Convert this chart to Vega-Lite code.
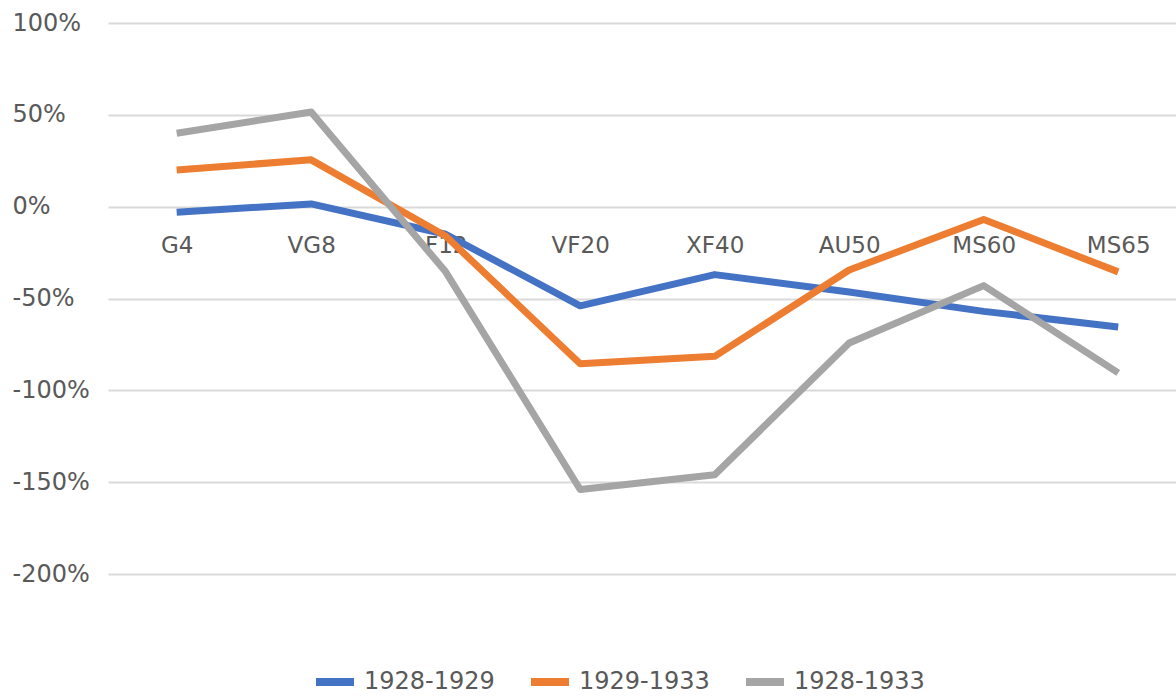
{
  "$schema": "https://vega.github.io/schema/vega-lite/v6.json",
  "width": 1068,
  "height": 551,
  "autosize": {"type": "none"},
  "padding": {"left": 108, "top": 23, "right": 0, "bottom": 122},
  "background": "white",
  "config": {"view": {"stroke": null}, "font": "DejaVu Sans"},
  "data": {
    "values": [
      {"grade": "G4", "period": "1928-1929", "value": -0.03},
      {"grade": "VG8", "period": "1928-1929", "value": 0.015},
      {"grade": "F12", "period": "1928-1929", "value": -0.15},
      {"grade": "VF20", "period": "1928-1929", "value": -0.54},
      {"grade": "XF40", "period": "1928-1929", "value": -0.37},
      {"grade": "AU50", "period": "1928-1929", "value": -0.465},
      {"grade": "MS60", "period": "1928-1929", "value": -0.57},
      {"grade": "MS65", "period": "1928-1929", "value": -0.655},
      {"grade": "G4", "period": "1929-1933", "value": 0.2},
      {"grade": "VG8", "period": "1929-1933", "value": 0.255},
      {"grade": "F12", "period": "1929-1933", "value": -0.16},
      {"grade": "VF20", "period": "1929-1933", "value": -0.855},
      {"grade": "XF40", "period": "1929-1933", "value": -0.815},
      {"grade": "AU50", "period": "1929-1933", "value": -0.345},
      {"grade": "MS60", "period": "1929-1933", "value": -0.07},
      {"grade": "MS65", "period": "1929-1933", "value": -0.355},
      {"grade": "G4", "period": "1928-1933", "value": 0.4},
      {"grade": "VG8", "period": "1928-1933", "value": 0.515},
      {"grade": "F12", "period": "1928-1933", "value": -0.355},
      {"grade": "VF20", "period": "1928-1933", "value": -1.54},
      {"grade": "XF40", "period": "1928-1933", "value": -1.46},
      {"grade": "AU50", "period": "1928-1933", "value": -0.742},
      {"grade": "MS60", "period": "1928-1933", "value": -0.43},
      {"grade": "MS65", "period": "1928-1933", "value": -0.905}
    ]
  },
  "mark": {"type": "line", "strokeWidth": 7, "strokeCap": "butt", "strokeJoin": "round"},
  "encoding": {
    "x": {
      "field": "grade",
      "type": "ordinal",
      "sort": ["G4", "VG8", "F12", "VF20", "XF40", "AU50", "MS60", "MS65"],
      "scale": {"type": "point", "padding": 0.47, "align": 0.543},
      "axis": {
        "title": null,
        "orient": "bottom",
        "offset": -367,
        "labelPadding": 27,
        "labelAngle": 0,
        "labelFontSize": 23,
        "labelColor": "#595959",
        "domain": false,
        "ticks": false,
        "grid": false
      }
    },
    "y": {
      "field": "value",
      "type": "quantitative",
      "scale": {"domain": [-2, 1], "nice": false, "zero": false},
      "axis": {
        "title": null,
        "values": [-2, -1.5, -1, -0.5, 0, 0.5, 1],
        "format": ".0%",
        "labelExpr": "replace(datum.label, '\u2212', '-')",
        "labelFontSize": 24,
        "labelColor": "#595959",
        "labelAlign": "left",
        "labelPadding": 96,
        "domain": false,
        "ticks": false,
        "gridColor": "#D9D9D9",
        "gridWidth": 2
      }
    },
    "color": {
      "field": "period",
      "type": "nominal",
      "sort": ["1928-1929", "1929-1933", "1928-1933"],
      "scale": {"domain": ["1928-1929", "1929-1933", "1928-1933"], "range": ["#4472C4", "#ED7D31", "#A5A5A5"]},
      "legend": {
        "title": null,
        "orient": "none",
        "direction": "horizontal",
        "legendX": 204,
        "legendY": 636,
        "symbolType": "stroke",
        "symbolSize": 1444,
        "symbolStrokeWidth": 8,
        "labelFontSize": 24,
        "labelColor": "#595959",
        "labelOffset": 6,
        "columnPadding": 20,
        "padding": 0
      }
    }
  }
}
